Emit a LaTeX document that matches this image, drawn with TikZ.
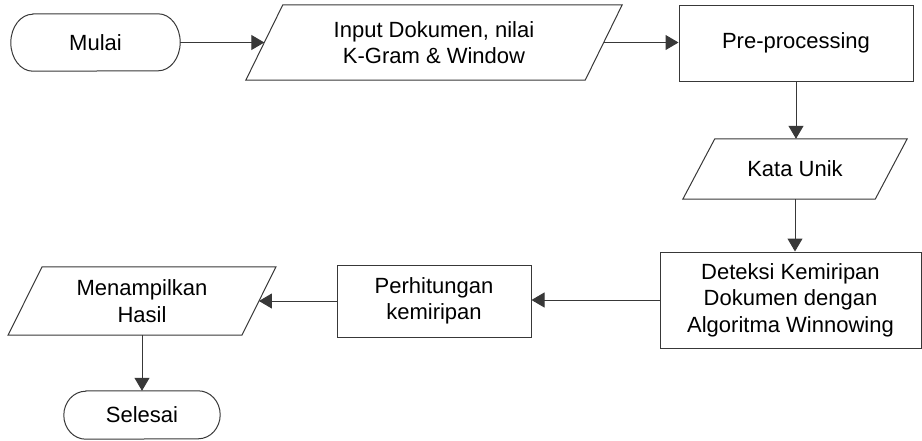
\documentclass[tikz,border=0pt]{standalone}
\usepackage{fontspec}
\setmainfont{Liberation Sans}
\usetikzlibrary{arrows.meta}
\newcommand\diagfont{\fontsize{22}{26.5}\selectfont}
\newcommand\myio[2]{%
  \draw[line] ([xshift=-#2pt]#1.south west) -- ([xshift=#2pt]#1.north west)
    -- ([xshift=#2pt]#1.north east) -- ([xshift=-#2pt]#1.south east) -- cycle;}
\newcommand\myterm[2]{%
  \draw[line] ([xshift=22pt]#1.north west) -- ([xshift=-22pt]#1.north east)
    arc[start angle=90,end angle=-90,x radius=22pt,y radius=#2pt]
    -- ([xshift=22pt]#1.south west)
    arc[start angle=270,end angle=90,x radius=22pt,y radius=#2pt] -- cycle;}
\begin{document}
\begin{tikzpicture}[x=1pt,y=-1pt,
  line/.style={draw=black!78, line width=1pt},
  txt/.style={rectangle, align=center, font=\diagfont, inner sep=0pt},
  box/.style={txt, line},
  io/.style={txt},
  term/.style={txt},
  arr/.style={line, -{Triangle[length=13pt,width=15pt]}}]
\useasboundingbox (0,0) rectangle (922,440);

\node[term, minimum width=169pt, minimum height=57pt] (mulai) at (95.5,42.5) {Mulai};
\node[io, minimum width=339pt, minimum height=75pt] (input) at (434,42.5) {Input Dokumen, nilai\\K-Gram \& Window};
\node[box, minimum width=234pt, minimum height=76pt] (pre) at (796,43) {Pre-processing};
\node[io, minimum width=192pt, minimum height=60pt] (kata) at (795,169) {Kata Unik};
\node[box, minimum width=261pt, minimum height=96pt] (det) at (790.5,300) {Deteksi Kemiripan\\Dokumen dengan\\Algoritma Winnowing};
\node[box, minimum width=194pt, minimum height=72pt] (hit) at (434,301) {Perhitungan\\kemiripan};
\node[io, minimum width=233.5pt, minimum height=68pt] (hasil) at (142,301) {Menampilkan\\Hasil};
\node[term, minimum width=156pt, minimum height=48pt] (selesai) at (142,415) {Selesai};

\myterm{mulai}{28.5}
\myterm{selesai}{24}
\myio{input}{18.5}
\myio{kata}{16}
\myio{hasil}{17}

\draw[arr] (mulai.east) -- (input.west);
\draw[arr] (input.east) -- (input.east -| pre.west);
\draw[arr] (pre.south) -- (pre.south |- kata.north);
\draw[arr] (kata.south) -- (kata.south |- det.north);
\draw[arr] (det.west) -- (det.west -| hit.east);
\draw[arr] (hit.west) -- (hit.west -| hasil.east);
\draw[arr] (hasil.south) -- (selesai.north);
\end{tikzpicture}
\end{document}
